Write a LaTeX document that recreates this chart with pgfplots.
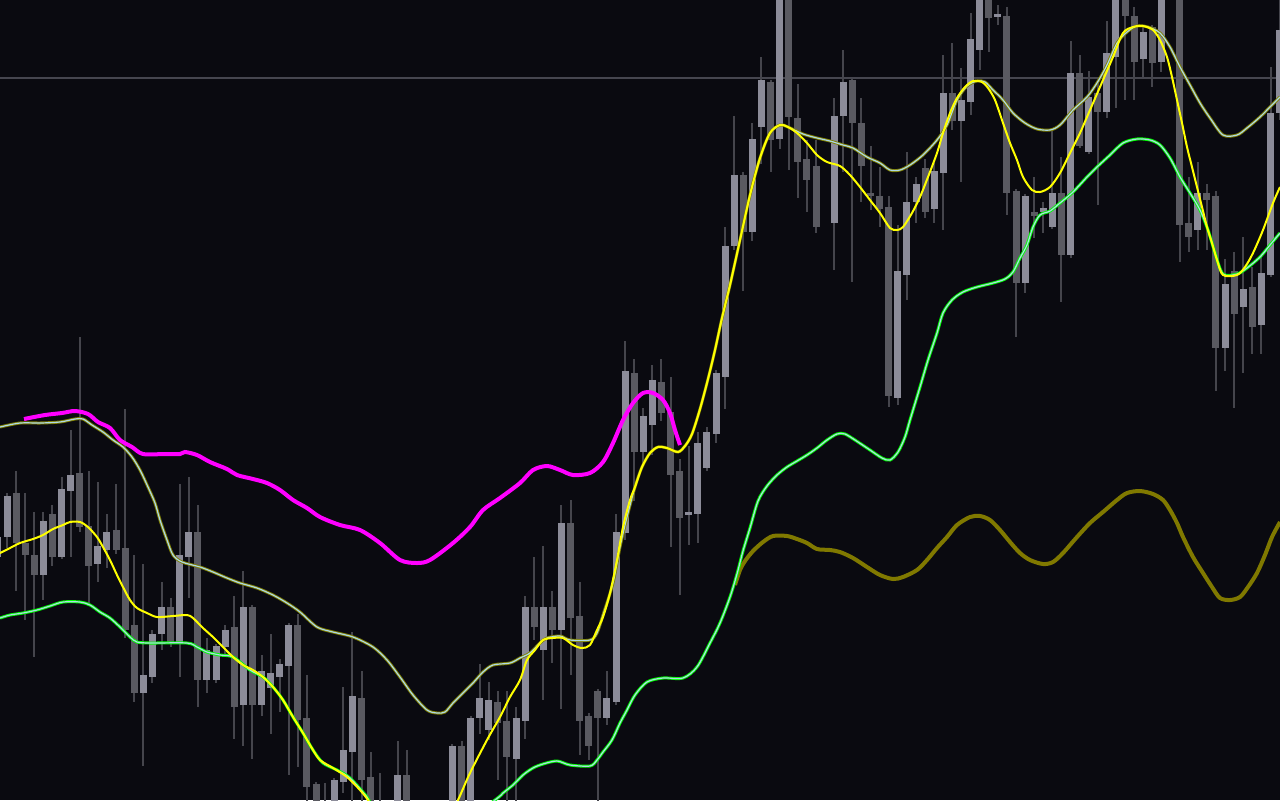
\documentclass[border=0pt]{standalone}
\usepackage{pgfplots}
\usepackage{pgfplotstable}
\pgfplotsset{compat=1.18}

\definecolor{bg}{HTML}{0A0A10}
\definecolor{bull}{HTML}{8C8C99}
\definecolor{bear}{HTML}{5A5A61}
\definecolor{wick}{HTML}{45454C}
\definecolor{hline}{HTML}{46464F}
\definecolor{band}{HTML}{808000}
\definecolor{lblue}{HTML}{ADD8E6}
\definecolor{lgreen}{HTML}{00FF00}
\definecolor{mag}{HTML}{FF00FF}
\definecolor{yel}{HTML}{FFFF00}
\definecolor{dolive}{HTML}{807900}

% candles in screen pixels (y grows downward): wick hi/lo, body top/bottom
\pgfplotstableread{
i hi lo bt bb
-1 535 560 537 557
0 493 548 496 537
4 512 600 521 575
6 477 559 489 557
7 430 557 475 491
10 482 582 546 564
11 514 568 532 550
15 564 766 675 693
16 630 683 634 677
17 582 650 607 634
19 484 677 555 643
20 477 598 532 557
22 638 693 650 680
23 644 683 646 680
24 625 655 630 647
26 571 746 607 705
28 655 716 671 705
29 634 734 673 688
30 659 712 664 677
31 623 775 625 666
36 778 810 780 805
37 687 793 750 782
38 632 810 696 752
43 741 810 775 805
49 744 810 746 805
51 716 810 718 805
52 664 734 698 718
53 682 740 700 730
56 707 810 718 759
57 596 739 607 721
59 546 700 607 650
61 505 709 523 630
66 671 725 698 718
67 514 705 532 702
68 341 540 371 533
70 408 463 416 452
71 365 455 380 425
75 446 545 512 515
76 432 543 443 514
77 427 471 432 468
78 370 443 373 434
79 227 409 246 377
80 116 250 175 246
82 123 241 139 232
83 57 164 80 127
85 -20 149 -10 139
91 98 270 116 223
92 50 172 82 116
98 225 405 271 398
99 152 300 202 275
100 177 223 184 202
102 163 223 171 209
103 55 230 93 173
105 68 182 100 121
106 13 115 39 102
107 -20 70 -10 50
109 5 25 14 17
112 194 293 196 283
114 202 233 208 212
115 130 229 193 227
117 41 258 73 255
119 71 154 97 152
121 21 118 53 112
122 -20 108 -10 57
125 25 77 32 59
127 -20 72 -10 62
131 162 250 193 230
134 259 371 284 348
136 237 373 289 307
138 257 354 273 325
139 67 277 113 275
140 -20 120 30 113
}\bull

\pgfplotstableread{
i hi lo bt bb
1 471 591 493 543
2 493 620 543 555
3 512 657 555 575
5 505 566 514 557
8 337 532 473 527
9 471 603 526 566
12 484 554 530 550
13 409 638 548 630
14 555 702 625 693
18 598 647 607 643
21 505 707 532 680
25 596 739 627 707
27 605 759 607 705
32 614 767 625 720
33 675 810 718 787
34 782 810 784 805
35 783 820 802 820
39 671 810 698 780
40 752 810 777 805
41 773 820 805 820
44 750 810 775 805
50 741 810 746 805
54 691 780 702 723
55 691 810 721 757
58 557 640 607 627
60 591 663 607 630
62 500 675 523 618
63 582 755 616 721
64 713 760 716 746
65 689 810 691 718
69 359 501 373 452
72 359 421 382 413
73 377 547 412 475
74 459 595 471 518
81 172 291 175 232
84 80 172 82 140
86 -20 170 -10 117
87 84 198 118 162
88 140 212 159 180
89 140 233 166 227
93 78 282 80 123
94 98 202 123 166
95 146 210 193 196
96 167 227 196 209
97 196 407 207 396
101 159 218 168 212
104 43 130 93 121
108 -20 52 -10 18
110 7 215 16 193
111 189 337 191 283
113 177 238 212 216
116 157 302 193 255
118 55 148 73 146
120 80 205 93 112
123 -20 100 -10 16
124 7 100 16 62
126 25 87 27 63
129 -20 262 -10 225
130 177 252 223 237
132 184 250 193 200
133 191 391 196 348
135 252 408 271 314
137 267 354 287 327
}\bear

\begin{document}
\begin{tikzpicture}
\useasboundingbox (0,0) rectangle (640pt,400pt);
\fill[bg] (0,0) rectangle (640pt,400pt);
\begin{axis}[
    at={(0,0)}, anchor=south west,
    scale only axis,
    width=640pt, height=400pt,
    xmin=0, xmax=1280,
    ymin=0, ymax=800,
    y dir=reverse,
    hide axis,
    clip=true,
]

% horizontal level line
\addplot[hline, line width=1pt] coordinates {(0,78) (1280,78)};

% wicks
\addplot[wick, line width=1pt, quiver={u=0, v=\thisrow{lo}-\thisrow{hi}}]
    table[x expr={7+9.09*\thisrow{i}}, y=hi] {\bull};
\addplot[wick, line width=1pt, quiver={u=0, v=\thisrow{lo}-\thisrow{hi}}]
    table[x expr={7+9.09*\thisrow{i}}, y=hi] {\bear};

% bodies
\addplot[bull, line width=3.5pt, quiver={u=0, v=\thisrow{bb}-\thisrow{bt}}]
    table[x expr={7+9.09*\thisrow{i}}, y=bt] {\bull};
\addplot[bear, line width=3.5pt, quiver={u=0, v=\thisrow{bb}-\thisrow{bt}}]
    table[x expr={7+9.09*\thisrow{i}}, y=bt] {\bear};

% magenta line
\addplot[mag, line width=2pt, smooth] coordinates {
(24,419) (45,415) (62,413) (75,411) (88,414) (98,422) (110,428) (120,440)
(132,447) (143,454) (165,454) (180,454) (185,452) (197,455) (210,462)
(227,469) (237,475) (253,479) (267,483) (280,490) (293,500) (307,508)
(320,517) (340,525) (360,530) (380,543) (400,560) (417,563) (430,560)
(453,543) (470,527) (483,510) (500,498) (520,483) (533,470) (547,466)
(560,470) (573,475) (590,473) (603,462) (613,443) (623,420) (633,403)
(643,393) (653,393) (663,400) (670,413) (675,430) (680,445)
};

% dark olive line
\addplot[dolive, line width=2pt, smooth] coordinates {
(735,585) (740,570) (745,561) (753,551) (763,542) (773,536) (787,536)
(797,539) (807,543) (817,549) (830,550) (840,552) (853,558) (867,567)
(880,575) (893,579) (903,577) (917,570) (927,560) (937,548) (947,537)
(957,525) (970,517) (980,516) (990,520) (1000,530) (1010,542) (1020,553)
(1030,560) (1043,564) (1053,562) (1063,553) (1077,537) (1090,523)
(1103,512) (1117,500) (1127,493) (1140,491) (1153,494) (1163,500)
(1170,510) (1177,523) (1183,537) (1193,557) (1203,573) (1212,587)
(1220,598) (1230,600) (1240,597) (1248,587) (1257,573) (1265,555)
(1272,537) (1280,522)
};

% upper band
\def\upperdata{
(0,427) (20,423) (40,423) (60,422) (75,419) (83,419) (92,425) (103,432)
(113,440) (123,447) (132,457) (140,470) (148,487) (155,503) (160,520)
(167,540) (173,555) (182,562) (200,567) (213,572) (227,578) (240,583)
(257,588) (273,595) (287,603) (300,612) (317,627) (333,632) (353,637)
(373,647) (387,660) (400,677) (413,695) (427,710) (437,713) (445,712)
(453,703) (463,693) (473,683) (483,672) (493,665) (510,663) (520,658)
(530,653) (540,643) (547,638) (560,636) (570,640) (590,640) (597,633)
(603,615) (613,583) (620,547) (627,517) (635,487) (642,467) (650,453)
(658,447) (667,448) (678,452) (685,446) (692,434) (700,409) (708,379)
(715,350) (722,318) (730,285) (740,240) (750,195) (760,158) (770,133)
(780,125) (788,127) (803,134) (817,138) (830,141) (843,145) (853,148)
(867,157) (880,163) (890,170) (900,170) (910,165) (923,155) (937,140)
(947,125) (957,100) (967,86) (977,81) (985,82) (993,90) (1003,100)
(1013,113) (1025,123) (1037,129) (1050,130) (1060,125) (1073,110)
(1087,97) (1097,83) (1107,65) (1117,43) (1127,32) (1137,26) (1148,27)
(1160,33) (1170,47) (1180,67) (1190,85) (1200,103) (1210,118) (1223,135)
(1237,135) (1247,128) (1260,117) (1270,107) (1280,97)
}
\addplot[band, line width=1.5pt, smooth] coordinates \upperdata;
\addplot[lblue, line width=0.6pt, smooth] coordinates \upperdata;

% lower band
\def\lowerdata{
(0,618) (10,615) (23,613) (37,610) (50,606) (63,602) (80,602) (90,605)
(100,612) (110,618) (120,627) (130,637) (137,642) (150,643) (187,643)
(197,647) (207,652) (220,655) (233,657) (250,670) (263,677) (273,687)
(283,700) (293,717) (303,733) (313,750) (323,763) (337,770) (350,778)
(367,797) (380,815) (440,840) (495,800) (503,793) (513,785) (523,775)
(533,768) (543,764) (557,761) (570,765) (590,766) (597,760) (603,752)
(612,740) (620,723) (627,710) (635,695) (647,682) (663,678) (683,678)
(697,667) (710,643) (720,623) (730,597) (737,574) (743,551) (750,528)
(758,501) (767,486) (777,475) (787,467) (797,461) (807,455) (817,448)
(827,440) (837,434) (845,434) (858,442) (870,450) (882,458) (890,460)
(898,452) (905,437) (910,420) (920,387) (928,360) (937,333) (943,313)
(952,300) (963,292) (977,287) (993,283) (1005,279) (1013,272) (1020,258)
(1027,245) (1033,227) (1040,215) (1050,211) (1060,203) (1073,192)
(1087,177) (1097,167) (1110,155) (1123,143) (1137,139) (1150,140)
(1160,145) (1170,158) (1180,177) (1190,193) (1200,210) (1208,230)
(1215,253) (1223,274) (1237,274) (1247,268) (1260,257) (1270,245)
(1280,233)
}
\addplot[lgreen, line width=1.5pt, smooth] coordinates \lowerdata;
\addplot[lblue, line width=0.6pt, smooth] coordinates \lowerdata;

% yellow middle line
\addplot[yel, line width=1pt, smooth] coordinates {
(0,553) (10,548) (20,543) (33,539) (43,535) (53,529) (63,525) (70,522)
(80,522) (88,527) (97,537) (103,547) (110,560) (117,575) (123,587)
(130,600) (137,608) (147,613) (157,617) (173,616) (187,615) (193,618)
(203,628) (213,637) (223,647) (233,657) (243,665) (253,670) (263,677)
(273,687) (283,700) (293,717) (303,733) (313,750) (320,760) (333,768)
(347,777) (360,790) (368,800) (385,825) (445,825) (458,800) (470,773)
(487,740) (500,717) (510,697) (520,680) (527,660) (535,650) (543,640)
(553,638) (563,638) (573,645) (582,648) (590,645) (597,630) (603,617)
(610,593) (617,560) (623,527) (630,500) (635,487) (642,467) (650,453)
(658,447) (667,448) (678,452) (685,446) (692,434) (700,409) (708,379)
(715,350) (722,318) (730,285) (740,240) (750,195) (760,158) (770,133)
(780,125) (788,127) (797,133) (807,143) (817,155) (827,162) (840,166)
(850,175) (860,187) (870,200) (880,213) (890,228) (897,230) (903,227)
(912,213) (920,197) (928,177) (937,153) (943,133) (950,113) (957,98)
(965,87) (973,81) (982,82) (988,88) (995,100) (1003,123) (1010,143)
(1017,160) (1023,177) (1032,190) (1040,192) (1050,187) (1060,173)
(1070,153) (1080,133) (1090,110) (1103,80) (1113,57) (1123,33)
(1133,27) (1143,26) (1153,30) (1160,40) (1167,57) (1172,77) (1177,100)
(1182,123) (1187,147) (1192,167) (1197,187) (1202,207) (1207,227)
(1212,243) (1217,260) (1223,275) (1237,275) (1245,267) (1253,253)
(1263,230) (1273,203) (1280,187)
};

\end{axis}
\end{tikzpicture}
\end{document}
